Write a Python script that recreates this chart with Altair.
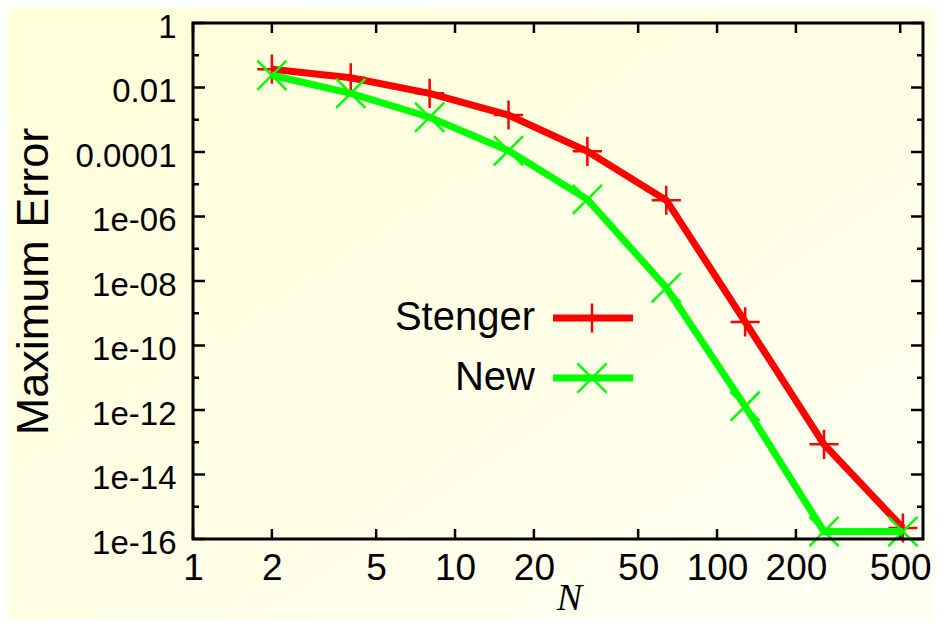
import altair as alt
import pandas as pd

# ---- data ----
N_values = [2, 4, 8, 16, 32, 64, 128, 256, 512]
stenger_err = [0.037, 0.020, 0.0066, 0.0014, 1.05e-4, 3.2e-6, 5.4e-10, 8.6e-14, 2.2e-16]
new_err = [0.024, 0.0066, 0.0012, 1.1e-4, 3.4e-6, 6.2e-9, 1.3e-12, 1.7e-16, 1.7e-16]
series_names = ["Stenger", "New"]
series_colors = ["#ff0000", "#00ff00"]
series_shapes = ["M-1,0L1,0M0,-1L0,1", "M-1,-1L1,1M-1,1L1,-1"]

x_tick_values = [1, 2, 5, 10, 20, 50, 100, 200, 500]
y_major_exponents = [0, -2, -4, -6, -8, -10, -12, -14, -16]
y_minor_exponents = [-1, -3, -5, -7, -9, -11, -13, -15]
y_tick_labels = ["1", "0.01", "0.0001", "1e-06", "1e-08", "1e-10", "1e-12", "1e-14", "1e-16"]

W, H = 730, 516
PAD = {"left": 185, "top": 15, "right": 12, "bottom": 80}

xs = alt.Scale(type="log", domain=[1, 611], nice=False)
ys = alt.Scale(type="log", domain=[1e-16, 1], nice=False)

label_expr = ""
for e, lab in zip(y_major_exponents, y_tick_labels):
    label_expr += f"round(log(datum.value)/LN10) == {e} ? '{lab}' : "
label_expr += "''"

x_axis = alt.Axis(
    values=x_tick_values, format="d", ticks=False, domain=False, grid=False,
    labelFont="Liberation Sans", labelFontSize=37, labelColor="black",
    labelPadding=11, labelFlush=False, labelOverlap=False,
    title="N", titleFont="Liberation Serif", titleFontStyle="italic",
    titleFontWeight="normal", titleFontSize=38, titleColor="black",
    titleX=376, titleY=70, titleBaseline="alphabetic", titleAlign="center",
    zindex=1,
)
y_axis = alt.Axis(
    values=[10.0 ** e for e in y_major_exponents], labelExpr=label_expr,
    ticks=False, domain=False, grid=False,
    labelFont="Liberation Sans", labelFontSize=33, labelColor="black",
    labelPadding=17, labelOffset=4, labelFlush=False, labelOverlap=False,
    title="Maximum Error", titleFont="Liberation Sans", titleFontWeight="normal",
    titleFontSize=45, titleColor="black", titleAngle=270,
    titleX=-160, titleY=H / 2, titleBaseline="middle", titleAlign="center",
    zindex=1,
)


def X():
    return alt.X("N:Q", scale=xs, axis=x_axis)


def Y():
    return alt.Y("err:Q", scale=ys, axis=y_axis)


one = pd.DataFrame({"a": [0]})

# background with a soft gradient
background = alt.Chart(one).mark_rect(
    fill=alt.LinearGradient(
        gradient="linear",
        stops=[alt.GradientStop(color="#ffffd8", offset=0),
               alt.GradientStop(color="#fffff3", offset=1)],
        x1=0, y1=0, x2=1, y2=1,
    )
).encode(
    x=alt.value(-PAD["left"]), x2=alt.value(W + PAD["right"]),
    y=alt.value(-PAD["top"]), y2=alt.value(H + PAD["bottom"]),
)

layers = [background]

# ticks (inward, gnuplot style)
xt = pd.DataFrame({"N": x_tick_values})
layers.append(alt.Chart(xt).mark_rule(color="black", strokeWidth=2.5).encode(
    x=X(), y=alt.value(H), y2=alt.value(H - 10)))
layers.append(alt.Chart(xt).mark_rule(color="black", strokeWidth=2.5).encode(
    x=X(), y=alt.value(0), y2=alt.value(10)))
for exps, ln in ((y_major_exponents, 12), (y_minor_exponents, 6)):
    yt = pd.DataFrame({"err": [10.0 ** e for e in exps]})
    layers.append(alt.Chart(yt).mark_rule(color="black", strokeWidth=2.5).encode(
        y=Y(), x=alt.value(0), x2=alt.value(ln)))
    layers.append(alt.Chart(yt).mark_rule(color="black", strokeWidth=2.5).encode(
        y=Y(), x=alt.value(W), x2=alt.value(W - ln)))

# data series
for name, vals, col, shp in zip(series_names, [stenger_err, new_err], series_colors, series_shapes):
    df = pd.DataFrame({"N": N_values, "err": vals})
    layers.append(alt.Chart(df).mark_line(color=col, strokeWidth=7).encode(x=X(), y=Y()))
    layers.append(alt.Chart(df).mark_point(
        shape=shp, size=850, filled=False, color=col, strokeWidth=2.5, opacity=1
    ).encode(x=X(), y=Y()))

# legend (label to the left of the sample)
legend_y = [295, 355]
for name, col, shp, ly in zip(series_names, series_colors, series_shapes, legend_y):
    ldf = pd.DataFrame({"label": [name]})
    layers.append(alt.Chart(ldf).mark_text(
        align="right", baseline="middle", font="Liberation Sans", fontSize=40, color="black"
    ).encode(x=alt.value(342), y=alt.value(ly), text="label:N"))
    layers.append(alt.Chart(ldf).mark_rule(color=col, strokeWidth=7).encode(
        x=alt.value(360), x2=alt.value(440), y=alt.value(ly)))
    layers.append(alt.Chart(ldf).mark_point(
        shape=shp, size=850, filled=False, color=col, strokeWidth=2.5, opacity=1
    ).encode(x=alt.value(399), y=alt.value(ly)))

# border box
layers.append(alt.Chart(one).mark_rect(filled=False, stroke="black", strokeWidth=3).encode(
    x=alt.value(0), x2=alt.value(W), y=alt.value(0), y2=alt.value(H)))

chart = alt.layer(*layers).properties(
    width=W, height=H, padding=PAD, autosize=alt.AutoSizeParams(type="none"),
    background="#ffffe6",
).configure_view(stroke=None)

chart.save("out.html", embed_options={"renderer": "svg", "actions": False})
